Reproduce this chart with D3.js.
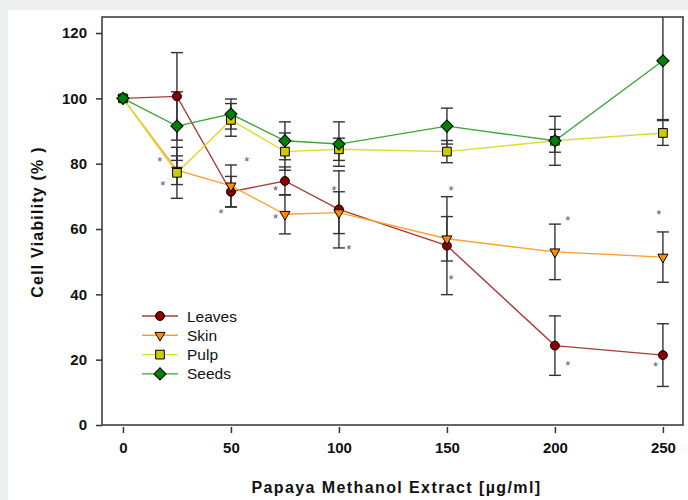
<!DOCTYPE html>
<html lang="en">
<head>
	<meta charset="utf-8">
	<title>Cell viability - papaya methanol extract</title>
	<script src="https://d3js.org/d3.v7.min.js"></script>
	<style>
		body { margin: 0; background: #eef0ef; }
		svg { display: block; }
		.tick text { font-family: "Liberation Sans", Arial, sans-serif; font-weight: bold; font-size: 15px; fill: #111; }
		.title { font-family: "Liberation Sans", Arial, sans-serif; font-weight: bold; font-size: 16px; fill: #111; }
		.legend text { font-family: "Liberation Sans", Arial, sans-serif; font-size: 15.5px; fill: #111; }
	</style>
</head>
<body>

<script type="text/javascript">

// doses (x) and mean viability / error for each part of the fruit
var doses = [0, 25, 50, 75, 100, 150, 200, 250];

var leaves    = [100, 100.6, 71.4, 74.7, 66.0, 54.9, 24.3, 21.4];
var leavesErr = [0, 13.4, 4.7, 4.3, 11.8, 15.0, 9.1, 9.6];

var skin    = [100, 78.0, 73.2, 64.5, 65.0, 57.0, 53.0, 51.4];
var skinErr = [0, 4.4, 6.4, 6.0, 6.4, 6.8, 8.5, 7.7];

var pulp    = [100, 77.2, 93.4, 83.7, 84.4, 83.7, 87.0, 89.4];
var pulpErr = [0, 7.8, 5.0, 5.7, 3.4, 3.4, 3.5, 3.8];

var seeds    = [100, 91.5, 95.2, 87.0, 86.0, 91.5, 87.0, 111.5];
var seedsErr = [0, 10.5, 4.6, 5.8, 6.8, 5.5, 7.5, 18.0];

var xTicks = [0, 50, 100, 150, 200, 250];
var yTicks = [0, 20, 40, 60, 80, 100, 120];

// significance asterisks (dose, viability)
var starX = [17.1, 18.4, 57.3, 45.4, 70.7, 70.7, 97.7, 104.6, 151.9, 151.9, 205.9, 205.9, 248.1, 246.6];
var starY = [81.4, 74.2, 81.4, 65.6, 72.6, 64.0, 72.6, 54.6, 72.6, 45.4, 63.3, 18.9, 65.3, 18.7];

var series = [
	{ name: "Leaves", vals: leaves, err: leavesErr, fill: "#8b0000", line: "#ad3a3a", shape: "circle" },
	{ name: "Skin",   vals: skin,   err: skinErr,   fill: "#ff8c00", line: "#ffa030", shape: "tri" },
	{ name: "Pulp",   vals: pulp,   err: pulpErr,   fill: "#cccc00", line: "#dcdc30", shape: "square" },
	{ name: "Seeds",  vals: seeds,  err: seedsErr,  fill: "#008000", line: "#3aa83a", shape: "diamond" }
];

var W = 688, H = 500;
var frame = { left: 102, right: 683, top: 17, bottom: 425 };

var svg = d3.select("body").append("svg")
	.attr("width", W)
	.attr("height", H);

// white card
svg.append("rect")
	.attr("x", 8).attr("y", 10)
	.attr("width", W - 8).attr("height", H - 10)
	.attr("fill", "#fff");

var x = d3.scaleLinear().domain([-9.7, 259.3]).range([frame.left, frame.right]);
var y = d3.scaleLinear().domain([0, 124.9]).range([frame.bottom, frame.top]);

svg.append("clipPath").attr("id", "plotclip")
	.append("rect")
	.attr("x", frame.left).attr("y", frame.top)
	.attr("width", frame.right - frame.left).attr("height", frame.bottom - frame.top);

// axes
var yAxis = svg.append("g")
	.attr("transform", "translate(" + frame.left + ",0)")
	.call(d3.axisLeft(y).tickValues(yTicks).tickSize(6).tickPadding(9));

var xAxis = svg.append("g")
	.attr("transform", "translate(0," + (frame.bottom + 2) + ")")
	.call(d3.axisBottom(x).tickValues(xTicks).tickSize(6).tickPadding(9));

[xAxis, yAxis].forEach(function(a) {
	a.select(".domain").remove();
	a.selectAll(".tick line").attr("stroke", "#333").attr("stroke-width", 1.5);
});

// frame
svg.append("rect")
	.attr("x", frame.left).attr("y", frame.top)
	.attr("width", frame.right - frame.left).attr("height", frame.bottom - frame.top)
	.attr("fill", "none")
	.attr("stroke", "#333")
	.attr("stroke-width", 1.5);

// axis titles
svg.append("text")
	.attr("class", "title")
	.attr("x", (frame.left + frame.right) / 2 + 4)
	.attr("y", 493)
	.attr("text-anchor", "middle")
	.attr("letter-spacing", "1.4px")
	.text("Papaya Methanol Extract [\u00b5g/ml]");

svg.append("text")
	.attr("class", "title")
	.attr("transform", "translate(43,222) rotate(-90)")
	.attr("text-anchor", "middle")
	.attr("letter-spacing", "1.2px")
	.text("Cell Viability (% )");

var plot = svg.append("g").attr("clip-path", "url(#plotclip)");

// lines
var line = d3.line()
	.x(function(d, i) { return x(doses[i]); })
	.y(function(d) { return y(d); });

series.forEach(function(s) {
	plot.append("path")
		.datum(s.vals)
		.attr("d", line)
		.attr("fill", "none")
		.attr("stroke", s.line)
		.attr("stroke-width", 1.4);
});

// error bars
var capW = 6;
series.forEach(function(s) {
	var g = plot.append("g").attr("stroke", "#333").attr("stroke-width", 1.4);
	s.vals.forEach(function(v, i) {
		if (!s.err[i]) return;
		var cx = x(doses[i]);
		var hi = y(v + s.err[i]), lo = y(v - s.err[i]);
		g.append("line").attr("x1", cx).attr("x2", cx).attr("y1", hi).attr("y2", lo);
		g.append("line").attr("x1", cx - capW).attr("x2", cx + capW).attr("y1", hi).attr("y2", hi);
		g.append("line").attr("x1", cx - capW).attr("x2", cx + capW).attr("y1", lo).attr("y2", lo);
	});
});

// markers
function markerPath(shape) {
	if (shape == "circle") return d3.symbol().type(d3.symbolCircle).size(62)();
	if (shape == "tri") return d3.symbol().type(d3.symbolTriangle).size(44)();
	if (shape == "square") return d3.symbol().type(d3.symbolSquare).size(76)();
	return d3.symbol().type(d3.symbolSquare).size(74)();
}
function markerRot(shape) {
	if (shape == "tri") return " rotate(180)";
	if (shape == "diamond") return " rotate(45)";
	return "";
}

series.forEach(function(s) {
	plot.append("g")
		.selectAll("path")
		.data(s.vals)
		.enter()
		.append("path")
		.attr("d", markerPath(s.shape))
		.attr("transform", function(d, i) {
			return "translate(" + x(doses[i]) + "," + y(d) + ")" + markerRot(s.shape);
		})
		.attr("fill", s.fill)
		.attr("stroke", "#000")
		.attr("stroke-width", 1);
});

// asterisks
svg.append("g")
	.selectAll("text")
	.data(starX)
	.enter()
	.append("text")
	.attr("x", function(d) { return x(d); })
	.attr("y", function(d, i) { return y(starY[i]); })
	.attr("dy", "0.55em")
	.attr("text-anchor", "middle")
	.attr("font-family", "Liberation Sans, Arial, sans-serif")
	.attr("font-size", "13px")
	.attr("fill", "#5a5878")
	.text("*");

// legend
var legend = svg.append("g").attr("class", "legend");
series.forEach(function(s, i) {
	var ly = 316 + i * 19.3;
	legend.append("line")
		.attr("x1", 142).attr("x2", 178)
		.attr("y1", ly).attr("y2", ly)
		.attr("stroke", s.line)
		.attr("stroke-width", 1.4);
	legend.append("path")
		.attr("d", markerPath(s.shape))
		.attr("transform", "translate(160," + ly + ")" + markerRot(s.shape))
		.attr("fill", s.fill)
		.attr("stroke", "#000")
		.attr("stroke-width", 1);
	legend.append("text")
		.attr("x", 187)
		.attr("y", ly)
		.attr("dy", "0.36em")
		.text(s.name);
});

</script>
</body>
</html>
